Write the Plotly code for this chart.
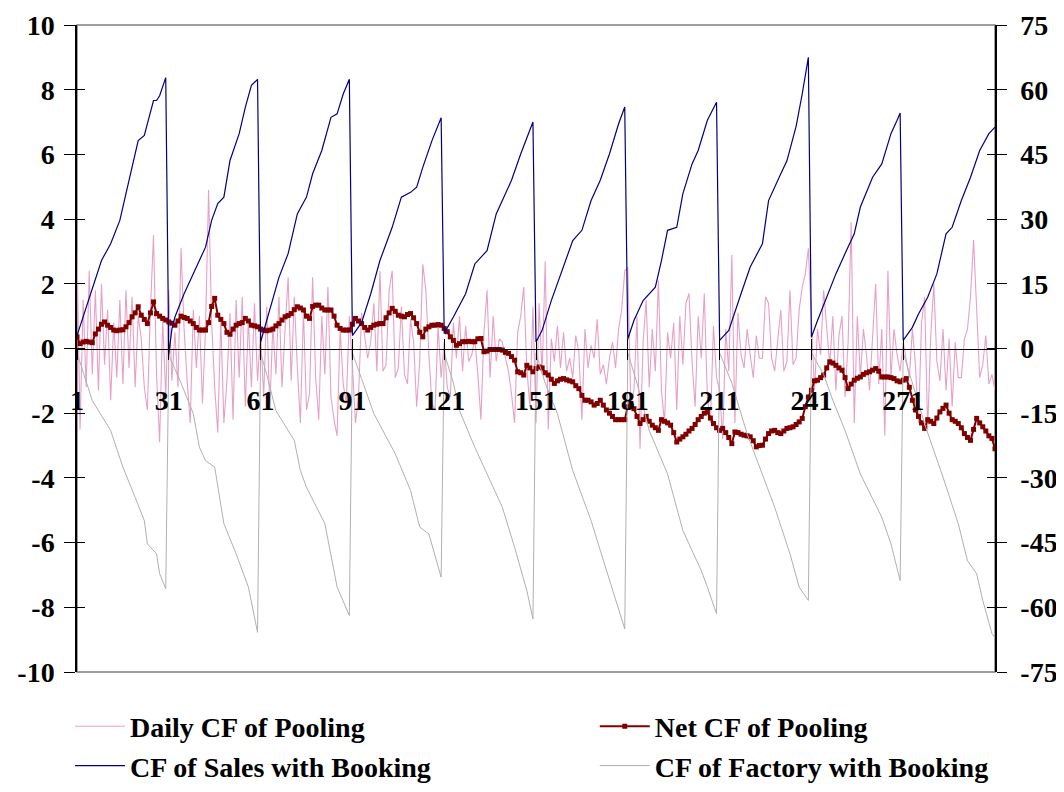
import plotly.graph_objects as go

# ---------------- data ----------------
days = list(range(1, 302))
x_tick_labels = [1, 31, 61, 91, 121, 151, 181, 211, 241, 271]

daily_cf = [
    3.0, -2.5, 1.5, -1.2, 2.4, -0.8, 1.8, -1.3, 2.0, -0.5,
    1.2, -1.6, 0.8, -0.9, 1.5, -1.1, 1.8, -0.6, 1.6, -1.2,
    1.0, 0.3, -1.2, -1.9, 1.2, 3.5, -0.8, -2.9, 0.9, -1.5,
    1.8, -1.0, 0.5, -1.2, 3.1, 0.6, -1.0, -2.3, 1.2, -0.6,
    1.0, -1.7, 0.6, 4.9, 0.8, -1.2, -2.6, 0.9, -2.3, -1.0,
    1.1, -2.2, 1.5, -0.9, 1.6, -1.8, 0.9, -1.2, 1.4, -1.0,
    0.5, -1.5, 1.3, -1.9, 0.7, -0.8, 1.6, -1.2, 0.6, 2.2,
    -1.0, 1.6, -0.6, -2.3, 1.2, -1.9, -1.4, 2.2, -0.9, -2.2,
    1.0, -0.8, 1.9, -1.5, -2.2, -2.7, 0.6, -1.1, -1.7, 1.0,
    -0.5, -2.3, -1.5, 1.1, 0.4, -0.3, 0.2, 1.4, -0.7, 2.4,
    -0.7, -0.5, 1.8, 2.4, -0.9, -0.6, 1.3, -0.8, -1.1, 0.9,
    0.2, -1.8, -0.4, 2.6, 1.8, -0.2, -1.7, -1.9, 0.7, -0.9,
    0.2, -1.2, -1.5, 0.8, -0.3, 1.0, -0.7, 0.7, -0.4, -0.2,
    0.3, -0.8, -2.2, 0.5, 1.8, -0.9, 1.0, -0.4, 0.3, 0.2,
    -0.3, -0.7, -1.4, -2.3, 0.5, 1.0, 1.9, -0.6, -1.8, 1.3,
    -2.3, 1.4, -0.8, 2.7, -2.5, 0.3, -0.4, 0.7, -0.6, 0.5,
    -0.7, -0.3, -0.9, 0.4, -0.1, -2.2, 0.6, -0.6, 0.1, -0.3,
    0.9, -0.8, -0.5, -1.1, -0.3, 0.2, -0.6, 0.6, 1.2, 2.4,
    2.5, -1.8, -1.3, 1.0, -3.1, 0.2, 1.5, -1.2, 0.6, -0.7,
    2.1, -1.3, -2.3, 0.5, -0.3, 0.8, -1.9, 1.0, -0.5, 1.4,
    1.7, -0.4, -1.8, 1.0, -0.3, 1.7, -1.5, -2.3, 0.7, -0.9,
    -1.3, -2.8, 0.6, -0.7, 2.9, -2.3, 1.1, -0.2, -0.6, 0.6,
    -0.2, -0.9, 0.4, -0.3, -0.3, 1.6, 1.4, -0.3, -0.7, 0.3,
    1.2, -0.7, -0.4, 1.8, -0.5, -0.3, 1.2, 1.9, 2.3, 3.1,
    0.8, -1.3, 0.6, -0.2, 1.8, 0.5, -0.5, 1.0, -1.3, 0.4,
    1.0, -1.5, 0.2, 3.9, -2.3, 1.0, -0.9, 0.6, -0.2, -1.3,
    0.5, 2.0, -1.1, 0.6, -2.7, 2.4, -0.9, 0.6, -0.2, -0.7,
    0.2, -0.3, -0.9, 0.6, -0.5, -2.3, 0.8, 1.6, -2.5, 0.4,
    2.0, -0.4, -1.0, 0.6, -1.3, 0.3, -1.8, 0.2, -0.9, -0.9,
    0.3, 0.6, 1.6, 3.35, 1.2, -0.9, -0.5, 0.4, -1.1, -0.8,
    -1.3,
]

net_cf = [
    0.36, 0.15, 0.2, 0.22, 0.2, 0.18, 0.45, 0.6, 0.75, 0.82,
    0.72, 0.65, 0.57, 0.55, 0.57, 0.58, 0.67, 0.8, 0.98, 1.1,
    1.29, 1.03, 0.9, 0.77, 1.1, 1.44, 1.08, 1.0, 0.93, 0.88,
    0.82, 0.78, 0.72, 0.85, 1.0, 0.96, 0.93, 0.85, 0.77, 0.65,
    0.57, 0.57, 0.57, 0.8, 1.3, 1.55, 1.03, 0.9, 0.77, 0.5,
    0.44, 0.6, 0.72, 0.77, 0.8, 0.93, 0.85, 0.72, 0.7, 0.67,
    0.6, 0.57, 0.55, 0.57, 0.6, 0.7, 0.77, 0.88, 0.98, 1.02,
    1.08, 1.2, 1.29, 1.25, 1.19, 1.0, 0.93, 1.3, 1.34, 1.34,
    1.25, 1.19, 1.19, 1.19, 1.0, 0.72, 0.62, 0.57, 0.57, 0.57,
    0.75, 0.93, 0.85, 0.77, 0.65, 0.57, 0.65, 0.72, 0.75, 0.77,
    0.77, 0.95, 1.1, 1.24, 1.15, 1.03, 1.0, 0.98, 1.05, 1.08,
    0.95, 0.77, 0.5, 0.36, 0.6, 0.67, 0.72, 0.72, 0.74, 0.72,
    0.62, 0.52, 0.36, 0.25, 0.1, 0.15, 0.21, 0.21, 0.22, 0.21,
    0.21, 0.3, 0.31, -0.1, -0.08, -0.03, -0.03, -0.03, -0.03, -0.05,
    -0.12, -0.15, -0.25, -0.36, -0.72, -0.75, -0.82, -0.52, -0.6, -0.72,
    -0.62, -0.57, -0.6, -0.75, -0.82, -0.95, -1.08, -1.0, -0.95, -0.93,
    -0.97, -1.0, -1.03, -1.15, -1.24, -1.45, -1.6, -1.6, -1.65, -1.75,
    -1.7, -1.6, -1.75, -1.9, -2.0, -2.1, -2.2, -2.2, -2.2, -2.2,
    -1.8, -1.7, -1.86, -2.1, -2.32, -2.2, -2.1, -2.25, -2.37, -2.45,
    -2.53, -2.2, -2.25, -2.3, -2.37, -2.6, -2.89, -2.8, -2.73, -2.65,
    -2.55, -2.47, -2.35, -2.2, -2.1, -2.0, -1.96, -2.15, -2.32, -2.45,
    -2.53, -2.47, -2.6, -2.75, -2.94, -2.58, -2.6, -2.65, -2.68, -2.7,
    -2.73, -2.85, -3.04, -3.0, -2.99, -2.8, -2.63, -2.55, -2.53, -2.6,
    -2.63, -2.55, -2.47, -2.45, -2.42, -2.35, -2.27, -2.16, -1.8, -1.5,
    -1.29, -1.0, -0.98, -0.9, -0.82, -0.6, -0.41, -0.45, -0.52, -0.6,
    -0.67, -0.9, -1.24, -1.1, -0.98, -0.92, -0.88, -0.8, -0.75, -0.72,
    -0.67, -0.62, -0.7, -0.88, -0.88, -0.88, -0.9, -0.93, -1.0, -1.03,
    -0.98, -0.93, -1.2, -1.6, -1.9, -2.1, -2.3, -2.47, -2.2, -2.25,
    -2.32, -2.15, -1.96, -1.85, -1.75, -2.0, -2.2, -2.25, -2.32, -2.45,
    -2.63, -2.75, -2.84, -2.5, -2.16, -2.3, -2.42, -2.55, -2.7, -2.78,
    -3.1,
]

sales_days = [1, 3, 6, 9, 12, 15, 17, 19, 21, 23, 26, 27, 28, 30,
              31, 32, 33, 36, 39, 43, 45, 47, 49, 51, 54, 56, 58, 60,
              61, 63, 67, 70, 73, 74, 76, 78, 81, 84, 86, 88, 90,
              91, 94, 97, 100, 104, 107, 110, 112, 114, 117, 120,
              121, 124, 128, 131, 135, 138, 143, 146, 149, 150,
              151, 153, 156, 160, 163, 166, 169, 172, 175, 178, 180,
              181, 183, 186, 190, 192, 194, 197, 199, 202, 204, 207, 210,
              211, 214, 218, 221, 225, 227, 231, 233, 236, 238, 240,
              241, 243, 247, 249, 252, 255, 257, 261, 264, 267, 269, 270,
              271, 274, 276, 279, 282, 285, 287, 290, 293, 296, 299, 301]
sales_cf = [3.0, 7.3, 14.2, 20.4, 24.3, 29.7, 35.9, 42.0, 48.2, 49.4, 57.5, 57.5, 58.6, 62.8,
            -1.5, 4.5, 7.3, 12.7, 17.3, 23.5, 29.7, 33.6, 35.1, 43.6, 49.8, 55.9, 61.0, 62.4,
            1.5, 6.5, 16.5, 22.0, 31.2, 32.5, 35.1, 40.5, 45.9, 53.6, 54.4, 59.0, 62.4,
            3.0, 6.0, 12.7, 20.4, 28.1, 35.1, 36.2, 37.4, 42.0, 48.2, 53.5,
            3.5, 7.3, 12.7, 19.6, 22.7, 31.2, 39.0, 45.1, 50.5, 52.5,
            1.5, 4.2, 11.1, 18.9, 25.0, 27.4, 34.3, 39.0, 45.1, 52.1, 56.0,
            2.2, 6.5, 11.1, 14.2, 20.4, 27.4, 28.1, 35.9, 42.8, 45.9, 52.9, 57.1,
            1.9, 4.2, 12.7, 18.9, 24.3, 34.3, 40.5, 43.5, 51.5, 59.0, 67.5,
            2.6, 6.5, 13.8, 17.3, 22.0, 26.6, 32.8, 39.7, 42.8, 49.8, 52.9, 54.6,
            1.9, 4.9, 8.0, 11.9, 17.3, 26.6, 28.1, 34.3, 39.7, 45.9, 49.8, 51.3]

factory_days = [1, 4, 6, 12, 16, 20, 23, 24, 27, 28, 30,
                31, 35, 39, 41, 43, 46, 49, 53, 57, 60,
                61, 63, 66, 72, 74, 76, 82, 86, 90,
                91, 94, 98, 105, 110, 113, 116, 120,
                121, 124, 126, 131, 136, 140, 144, 148, 150,
                151, 154, 158, 163, 169, 172, 175, 178, 180,
                181, 184, 188, 194, 199, 205, 207, 210,
                211, 215, 220, 227, 229, 234, 237, 240,
                241, 245, 248, 252, 257, 264, 267, 270,
                271, 274, 278, 284, 289, 292, 295, 297, 300, 301]
factory_cf = [-1.0, -7.4, -12.1, -19.0, -27.5, -34.5, -39.9, -45.3, -47.6, -52.2, -55.7,
              -1.5, -8.0, -15.1, -22.9, -26.0, -27.5, -40.6, -47.6, -55.3, -65.8,
              -1.0, -6.0, -14.4, -21.3, -28.3, -32.2, -40.6, -55.3, -61.9,
              -1.0, -7.0, -15.1, -24.4, -32.9, -41.4, -43.0, -53.0,
              -1.0, -8.0, -14.4, -22.9, -30.6, -36.8, -46.1, -56.1, -62.7,
              -1.0, -8.0, -15.1, -28.3, -39.9, -46.8, -53.8, -60.7, -65.0,
              -1.0, -8.0, -19.0, -29.1, -42.2, -51.5, -55.3, -61.5,
              -1.0, -8.0, -19.8, -32.9, -36.8, -47.6, -55.3, -58.4,
              -1.0, -6.0, -12.0, -19.0, -29.1, -39.1, -45.3, -53.8,
              -1.0, -8.0, -17.5, -29.8, -40.6, -49.2, -52.2, -58.4, -66.1, -67.0]

left_ticks = list(range(-10, 11, 2))
right_ticks = list(range(-75, 76, 15))

# ---------------- style ----------------
FONT = "Liberation Serif"
tickfont = dict(family=FONT, size=28, color="black", weight="bold")
legfont = dict(family=FONT, size=28, color="black", weight="bold")

fig = go.Figure()

fig.add_trace(go.Scatter(x=days, y=daily_cf, name="Daily CF of Pooling",
                         mode="lines", line=dict(color="rgb(232,160,200)", width=1.1),
                         xaxis="x", yaxis="y", legend="legend", legendrank=1))
fig.add_trace(go.Scatter(x=days, y=net_cf, name="Net CF of Pooling",
                         mode="lines+markers",
                         line=dict(color="#800000", width=2),
                         marker=dict(symbol="square", size=5, color="#800000"),
                         xaxis="x", yaxis="y", legend="legend2", legendrank=1))
fig.add_trace(go.Scatter(x=sales_days, y=sales_cf, name="CF of Sales with Booking",
                         mode="lines", line=dict(color="#000080", width=1.2),
                         xaxis="x", yaxis="y2", legend="legend", legendrank=2))
fig.add_trace(go.Scatter(x=factory_days, y=factory_cf, name="CF of Factory with Booking",
                         mode="lines", line=dict(color="#B0B0B0", width=1),
                         xaxis="x", yaxis="y2", legend="legend2", legendrank=2))
# empty helper traces so the cross-tick overlay axes get drawn
fig.add_trace(go.Scatter(x=[], y=[], xaxis="x2", yaxis="y3", showlegend=False, hoverinfo="skip"))
fig.add_trace(go.Scatter(x=[], y=[], xaxis="x2", yaxis="y4", showlegend=False, hoverinfo="skip"))

leg_common = dict(orientation="v", yanchor="top", xanchor="left",
                  font=legfont, bgcolor="rgba(0,0,0,0)", itemwidth=50,
                  traceorder="normal")

fig.update_layout(
    width=1056, height=784,
    paper_bgcolor="white", plot_bgcolor="white",
    margin=dict(l=69, r=69, t=17, b=120, autoexpand=False),
    font=dict(family=FONT, color="black"),
    showlegend=True,
    legend=dict(x=-0.0076, y=-0.0456, **leg_common),
    legend2=dict(x=0.564, y=-0.0456, **leg_common),
    xaxis=dict(range=[1, 301], anchor="free", position=0.5,
               tickmode="array", tickvals=x_tick_labels, ticktext=[str(v) for v in x_tick_labels],
               ticks="outside", ticklen=10, tickcolor="black", tickwidth=1,
               showline=True, linecolor="black", linewidth=1,
               showgrid=False, zeroline=False, tickfont=tickfont,
               ticklabelstandoff=17, automargin=False),
    xaxis2=dict(range=[1, 301], overlaying="x", anchor="free", position=0.5,
                tickmode="array", tickvals=x_tick_labels,
                ticks="inside", ticklen=10, tickcolor="black",
                showticklabels=False, showline=False, showgrid=False, zeroline=False,
                automargin=False),
    yaxis=dict(range=[-10, 10], tickmode="array", tickvals=left_ticks,
               ticktext=[str(v) for v in left_ticks],
               ticks="outside", ticklen=11, tickcolor="black",
               showline=True, linecolor="black", linewidth=1.5,
               showgrid=False, zeroline=False, tickfont=tickfont,
               ticklabelstandoff=4, automargin=False),
    yaxis2=dict(range=[-75, 75], overlaying="y", side="right", anchor="x",
                tickmode="array", tickvals=right_ticks,
                ticktext=[str(v) for v in right_ticks],
                ticks="outside", ticklen=10, tickcolor="black",
                showline=True, linecolor="black", linewidth=1.5,
                showgrid=False, zeroline=False, tickfont=tickfont,
                ticklabelstandoff=8, automargin=False),
    yaxis3=dict(range=[-10, 10], overlaying="y", side="left", anchor="x",
                tickmode="array", tickvals=left_ticks,
                ticks="inside", ticklen=8, tickcolor="black",
                showticklabels=False, showline=False, showgrid=False, zeroline=False,
                automargin=False),
    yaxis4=dict(range=[-75, 75], overlaying="y", side="right", anchor="x",
                tickmode="array", tickvals=right_ticks,
                ticks="inside", ticklen=8, tickcolor="black",
                showticklabels=False, showline=False, showgrid=False, zeroline=False,
                automargin=False),
    shapes=[dict(type="rect", xref="paper", yref="paper", x0=0, x1=1, y0=0, y1=1,
                 line=dict(color="#808080", width=1.5), layer="below")],
)

fig.write_html("out.html")
